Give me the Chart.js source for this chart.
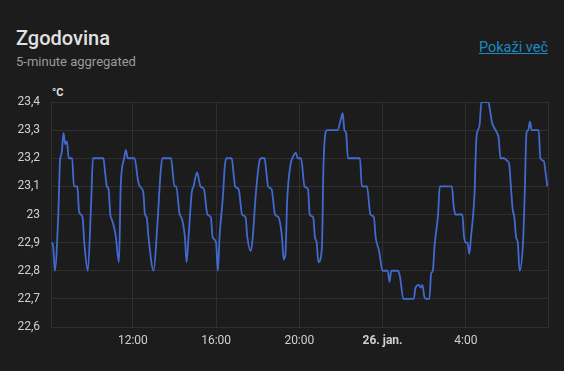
<!DOCTYPE html>
<html>
<head>
<meta charset="utf-8">
<script src="https://cdn.jsdelivr.net/npm/chart.js@4"></script>
<style>
  html, body { margin: 0; padding: 0; background: #1c1c1c; width: 564px; height: 371px; overflow: hidden; font-family: Roboto, sans-serif; }
  .title { position: absolute; left: 16px; top: 26px; font-size: 20px; font-weight: 500; color: #e1e1e1; }
  .subtitle { position: absolute; left: 16px; top: 54px; font-size: 13px; color: #9b9b9b; }
  .more { position: absolute; right: 16px; top: 39px; font-size: 14.5px; color: #1a8ac2; text-decoration: underline; }
  .unit { position: absolute; left: 52px; top: 86px; font-size: 11px; font-weight: 700; color: #e1e1e1; }
  .chart-box { position: absolute; left: 0; top: 80px; width: 564px; height: 291px; }
</style>
</head>
<body>
<div class="title">Zgodovina</div>
<div class="subtitle">5-minute aggregated</div>
<div class="more">Pokaži več</div>
<div class="unit">°C</div>
<div class="chart-box"><canvas id="historyChart"></canvas></div>
<script>
// minutes since 25 Jan 00:00
const times = [
  485, 490, 495, 505, 510, 515, 520, 525, 530, 535, 545, 550, 560, 565, 575, 580, 590,
  600, 605, 635, 640, 645, 650, 655, 660, 670, 680, 685, 695, 700, 705, 725, 735, 740,
  750, 755, 760, 765, 780, 790, 800, 805, 830, 840, 845, 855, 860, 870, 875, 880, 890,
  895, 905, 915, 925, 935, 945, 950, 960, 965, 970, 980, 985, 990, 1005, 1010, 1015,
  1025, 1035, 1045, 1050, 1060, 1065, 1075, 1085, 1090, 1100, 1105, 1110, 1120, 1130,
  1140, 1150, 1155, 1160, 1165, 1175, 1180, 1190, 1195, 1205, 1215, 1225, 1230, 1240,
  1245, 1250, 1255, 1265, 1270, 1280, 1310, 1320, 1325, 1330, 1335, 1340, 1375, 1380,
  1395, 1405, 1415, 1420, 1430, 1440, 1455, 1460, 1465, 1485, 1490, 1500, 1530, 1535,
  1545, 1550, 1555, 1560, 1565, 1575, 1580, 1585, 1590, 1600, 1605, 1640, 1645, 1650,
  1670, 1675, 1680, 1685, 1690, 1695, 1705, 1710, 1715, 1720, 1725, 1745, 1750, 1755,
  1770, 1775, 1780, 1790, 1800, 1805, 1810, 1815, 1820, 1825, 1830, 1835, 1845, 1850,
  1855, 1860, 1865, 1870, 1890, 1895, 1905, 1910, 1915
];
const temperature = [
  22.90, 22.89, 22.80, 23.00, 23.19, 23.22, 23.29, 23.25, 23.26, 23.20, 23.20, 23.10, 23.10, 23.01, 22.99, 22.90, 22.80,
  23.05, 23.20, 23.20, 23.15, 23.10, 23.09, 23.00, 22.98, 22.93, 22.83, 23.10, 23.20, 23.23, 23.20, 23.20, 23.12, 23.10,
  23.08, 23.00, 22.99, 22.92, 22.80, 22.95, 23.15, 23.20, 23.20, 23.10, 23.10, 23.00, 22.99, 22.92, 22.83, 22.91, 23.08,
  23.10, 23.15, 23.10, 23.09, 23.00, 22.99, 22.92, 22.90, 22.80, 22.92, 23.07, 23.17, 23.20, 23.20, 23.15, 23.10,
  23.09, 23.00, 22.99, 22.92, 22.87, 22.91, 23.08, 23.19, 23.20, 23.20, 23.15, 23.10, 23.09, 23.00,
  22.99, 22.92, 22.84, 22.86, 23.05, 23.18, 23.20, 23.22, 23.20, 23.20, 23.10, 23.09, 23.00, 22.99,
  22.92, 22.90, 22.83, 22.88, 23.19, 23.30, 23.30, 23.34, 23.36, 23.30, 23.29, 23.20, 23.20, 23.10,
  23.10, 23.00, 22.99, 22.92, 22.87, 22.80, 22.80, 22.76, 22.80, 22.80, 22.78, 22.70, 22.70, 22.74,
  22.75, 22.74, 22.75, 22.71, 22.70, 22.70, 22.79, 22.80, 22.89, 23.00, 23.10, 23.10, 23.03, 23.00,
  23.00, 22.92, 22.90, 22.90, 22.86, 22.92, 23.07, 23.26, 23.30, 23.32, 23.40, 23.40, 23.37, 23.33,
  23.29, 23.27, 23.20, 23.20, 23.19, 23.18, 23.10, 23.02, 22.99, 22.92, 22.90, 22.80, 22.90, 23.08,
  23.29, 23.30, 23.33, 23.30, 23.30, 23.20, 23.19, 23.15, 23.10
];

const xTicks = [484, 720, 960, 1200, 1440, 1680, 1917];
const xLabels = ['', '12:00', '16:00', '20:00', '26. jan.', '4:00', ''];
const yMin = 22.6, yMax = 23.4;

const points = times.map((t, i) => ({ x: t, y: temperature[i] }));

const ctx = document.getElementById('historyChart').getContext('2d');
new Chart(ctx, {
    type: 'line',
    data: {
        datasets: [{
            label: 'Temperatura',
            data: points,
            borderColor: '#4269d0',
            borderWidth: 1.8,
            pointRadius: 0,
            cubicInterpolationMode: 'monotone',
            fill: false
        }]
    },
    options: {
        responsive: true,
        maintainAspectRatio: false,
        animation: false,
        layout: { padding: { top: 22, right: 16, left: 0, bottom: 0 } },
        plugins: { legend: { display: false }, tooltip: { enabled: false } },
        scales: {
            x: {
                type: 'linear',
                min: 484,
                max: 1917,
                afterBuildTicks: scale => { scale.ticks = xTicks.map(v => ({ value: v })); },
                afterFit: scale => { scale.height = 44; },
                grid: { color: '#2f2f2f', drawTicks: false },
                border: { color: '#2f2f2f' },
                ticks: {
                    padding: 7,
                    maxRotation: 0,
                    autoSkip: false,
                    color: '#d0d0d0',
                    font: c => ({ family: 'Roboto', size: 12, weight: c.index === 4 ? 'bold' : 'normal' }),
                    callback: (v, i) => xLabels[i]
                }
            },
            y: {
                min: yMin,
                max: yMax,
                afterFit: scale => { scale.width = 51; },
                grid: { color: '#2f2f2f', drawTicks: false },
                border: { color: '#2f2f2f' },
                ticks: {
                    stepSize: 0.1,
                    padding: 11,
                    color: '#d0d0d0',
                    font: { family: 'Roboto', size: 12 },
                    callback: v => String(Math.round(v * 10) / 10).replace('.', ',')
                }
            }
        }
    }
});
</script>
</body>
</html>
